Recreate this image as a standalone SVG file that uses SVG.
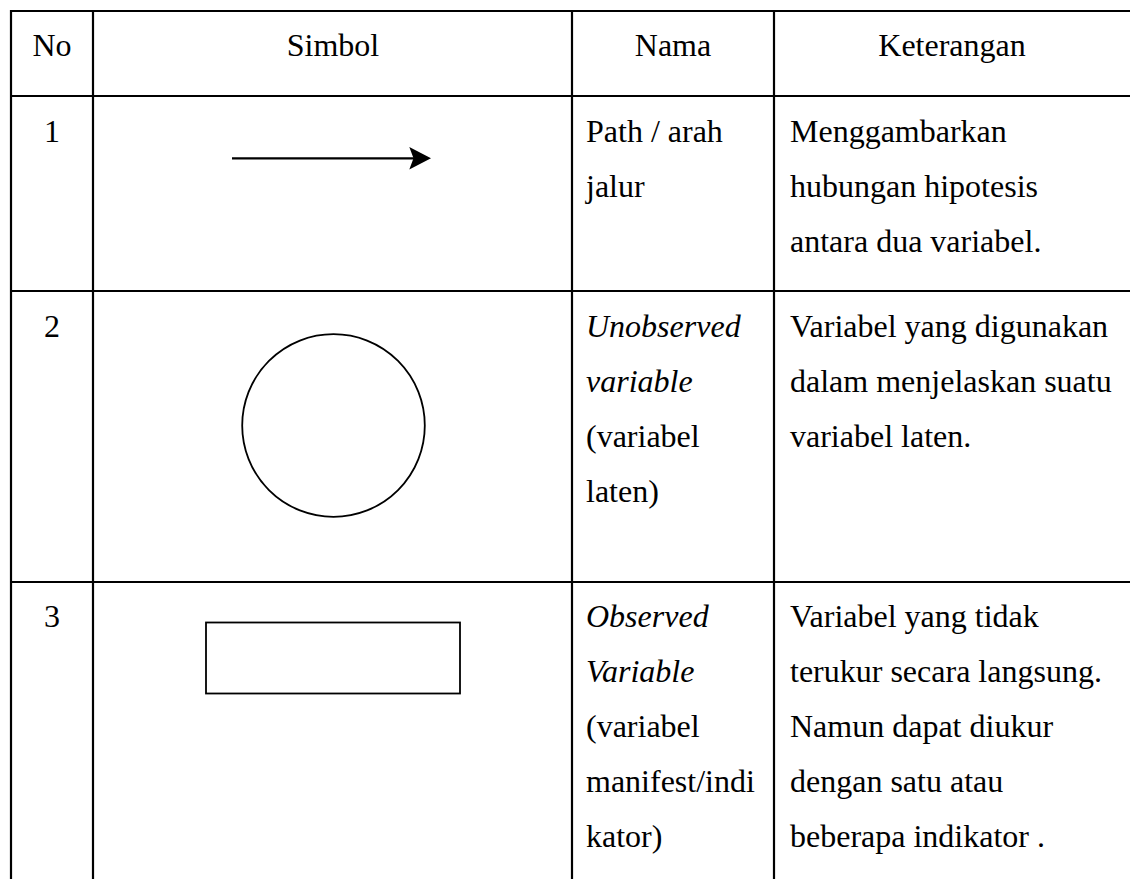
<svg xmlns="http://www.w3.org/2000/svg" width="1130" height="879" viewBox="0 0 1130 879">
<style>
  .grid { stroke: #000; stroke-width: 2.2; fill: none; }
  .shape { stroke: #000; stroke-width: 1.8; fill: none; }
  text { font-family: "Liberation Serif", "Times New Roman", serif; font-size: 32px; fill: #000; }
  .c { text-anchor: middle; }
  .i { font-style: italic; }
</style>
<rect width="1130" height="879" fill="#fff"/>
<g id="grid" class="grid">
  <line x1="11" y1="11" x2="1130" y2="11"/>
  <line x1="11" y1="96" x2="1130" y2="96"/>
  <line x1="11" y1="291" x2="1130" y2="291"/>
  <line x1="11" y1="582" x2="1130" y2="582"/>
  <line x1="11" y1="10" x2="11" y2="879"/>
  <line x1="93" y1="10" x2="93" y2="879"/>
  <line x1="572" y1="10" x2="572" y2="879"/>
  <line x1="774" y1="10" x2="774" y2="879"/>
</g>
<g id="header">
  <text class="c" x="52" y="56">No</text>
  <text class="c" x="333" y="56">Simbol</text>
  <text class="c" x="673" y="56">Nama</text>
  <text class="c" x="952" y="56">Keterangan</text>
</g>
<g id="row1">
  <text class="c" x="52" y="142">1</text>
  <g id="symbol-arrow">
    <line x1="232" y1="158.3" x2="414" y2="158.3" stroke="#000" stroke-width="2.2"/>
    <polygon points="409.3,147 431,158.3 409.3,169.5 413.5,158.3" fill="#000"/>
  </g>
  <text x="586" y="142">Path / arah</text>
  <text x="586" y="197">jalur</text>
  <text x="790" y="142">Menggambarkan</text>
  <text x="790" y="197">hubungan hipotesis</text>
  <text x="790" y="252">antara dua variabel.</text>
</g>
<g id="row2">
  <text class="c" x="52" y="337">2</text>
  <circle id="symbol-circle" class="shape" cx="333.5" cy="425.5" r="91.3"/>
  <text class="i" x="586" y="337">Unobserved</text>
  <text class="i" x="586" y="392">variable</text>
  <text x="586" y="447">(variabel</text>
  <text x="586" y="502">laten)</text>
  <text x="790" y="337">Variabel yang digunakan</text>
  <text x="790" y="392">dalam menjelaskan suatu</text>
  <text x="790" y="447">variabel laten.</text>
</g>
<g id="row3">
  <text class="c" x="52" y="627">3</text>
  <rect id="symbol-rect" class="shape" x="206" y="622.5" width="254" height="71"/>
  <text class="i" x="586" y="627">Observed</text>
  <text class="i" x="586" y="682">Variable</text>
  <text x="586" y="737">(variabel</text>
  <text x="586" y="792">manifest/indi</text>
  <text x="586" y="847">kator)</text>
  <text x="790" y="627">Variabel yang tidak</text>
  <text x="790" y="682">terukur secara langsung.</text>
  <text x="790" y="737">Namun dapat diukur</text>
  <text x="790" y="792">dengan satu atau</text>
  <text x="790" y="847">beberapa indikator .</text>
</g>
</svg>
